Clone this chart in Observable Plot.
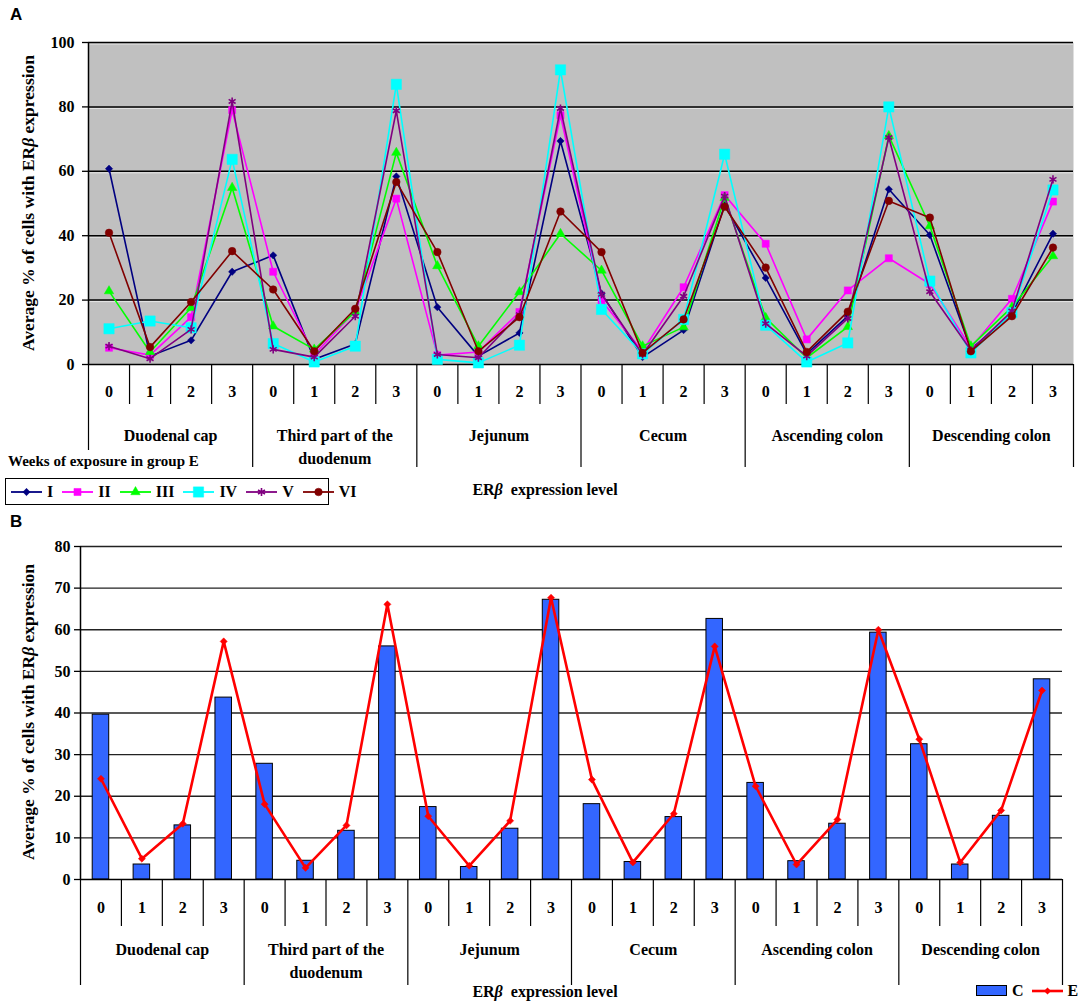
<!DOCTYPE html>
<html><head><meta charset="utf-8">
<script src="https://cdn.jsdelivr.net/npm/d3@7"></script>
<script src="https://cdn.jsdelivr.net/npm/@observablehq/plot@0.6"></script>
<style>
body{margin:0;background:#fff;}
#wrap{position:relative;width:1084px;height:1006px;overflow:hidden;font-family:"Liberation Serif","Times New Roman",serif;color:#000;}
#wrap > svg{position:absolute;left:0;overflow:visible;}
.abs{position:absolute;white-space:nowrap;font-weight:bold;}
.ytitle{font-size:17.5px;transform:translate(-50%,-50%) rotate(-90deg);}
.xtitle{font-size:16px;transform:translate(-50%,-50%);}
.panel{font-family:"Liberation Sans",Arial,sans-serif;font-size:17px;}
#legA{left:5px;top:478px;width:322px;height:25px;border:1.3px solid #000;background:#fff;display:flex;align-items:center;}
.li{display:flex;align-items:center;font-size:16px;font-weight:bold;}
.abs svg{position:static;display:block;}
#legB{display:flex;align-items:center;font-size:16px;font-weight:bold;}
</style></head><body><div id="wrap"></div>
<script>
// ---------- data ----------
const groups = ["Duodenal cap", "Third part of the\nduodenum", "Jejunum", "Cecum", "Ascending colon", "Descending colon"];
const levels = ["0", "1", "2", "3"];
const seriesNames = ["I", "II", "III", "IV", "V", "VI"];
const seriesColors = ["#000080", "#FF00FF", "#00FF00", "#00FFFF", "#800080", "#800000"];
const seriesSymbols = ["diamond2", "square", "triangle", "square", "asterisk", "circle"];

const weekI   = [60.8, 2.6, 7.5, 28.8,  33.9, 1.6, 6.4, 58.4,  17.8, 2.6, 9.8, 69.4,  22.0, 2.3, 10.7, 49.5,  26.9, 3.3, 15.0, 54.4,  40.2, 4.7, 15.8, 40.6];
const weekII  = [5.2, 2.9, 14.7, 79.0,  28.8, 3.1, 16.6, 51.5,  2.9, 3.9, 16.3, 77.4,  19.9, 4.1, 24.0, 52.6,  37.5, 7.8, 23.0, 33.0,  25.0, 5.2, 20.4, 50.6];
const weekIII = [22.8, 3.9, 17.6, 54.9,  11.9, 4.7, 16.4, 65.8,  30.6, 5.7, 22.5, 40.6,  29.2, 5.7, 11.6, 51.8,  14.5, 2.1, 11.7, 71.0,  43.0, 5.7, 17.8, 33.7];
const weekIV  = [11.1, 13.5, 11.4, 63.7,  6.5, 0.8, 5.7, 87.0,  1.6, 0.5, 6.0, 91.5,  17.1, 3.3, 14.0, 65.3,  12.2, 0.8, 6.7, 80.0,  25.9, 3.6, 16.1, 54.2];
const weekV   = [5.7, 1.8, 10.9, 81.7,  4.7, 2.3, 15.0, 78.8,  3.1, 2.1, 15.5, 79.5,  21.8, 3.1, 21.2, 52.3,  12.7, 2.6, 14.3, 70.5,  22.6, 4.4, 16.6, 57.5];
const weekVI  = [40.9, 5.4, 19.4, 35.2,  23.3, 4.1, 17.3, 56.7,  34.9, 4.1, 14.7, 47.5,  34.9, 3.6, 14.0, 49.0,  30.1, 3.9, 16.4, 50.8,  45.6, 4.1, 15.0, 36.3];

const groupC = [39.6, 3.6, 13.0, 43.7,  27.8, 4.5, 11.7, 56.0,  17.4, 3.0, 12.2, 67.2,  18.1, 4.2, 15.0, 62.6,  23.2, 4.4, 13.4, 59.3,  32.5, 3.6, 15.3, 48.1];
const groupE = [24.2, 5.0, 13.4, 57.2,  18.1, 2.8, 13.0, 66.1,  15.2, 3.3, 14.1, 67.7,  24.0, 4.1, 15.8, 56.0,  22.4, 3.6, 14.4, 60.0,  33.7, 4.1, 16.6, 45.4];

const yTicksA = [0, 20, 40, 60, 80, 100];
const yTicksB = [0, 10, 20, 30, 40, 50, 60, 70, 80];

// ---------- derived tables ----------
const seriesValues = [weekI, weekII, weekIII, weekIV, weekV, weekVI];
const cells = groups.flatMap((g, gi) => levels.map((l, li) => ({i: gi * 4 + li, label: l})));
const groupRows = groups.map((g, gi) => ({g, gi}));
const bounds = d3.range(0, groups.length * levels.length + 1).map(k => ({k, major: k % levels.length === 0}));
const rowsB = groupC.map((c, i) => ({i, c, e: groupE[i]}));
const nCat = groups.length * levels.length;

const serif = "'Liberation Serif','Times New Roman',serif";
const baseStyle = {fontFamily: serif, fontSize: "16px", fontWeight: "bold", background: "transparent", color: "#000", overflow: "visible"};

function hierAxis(minorLen, majorLen, firstLen, labelDy, groupDy) {
  return [
    Plot.ruleX(bounds.filter(b => !b.major), {x: "k", y1: 0, y2: 0, insetTop: 0, insetBottom: -minorLen, stroke: "#000", strokeWidth: 1.2}),
    Plot.ruleX(bounds.filter(b => b.major && b.k > 0), {x: "k", y1: 0, y2: 0, insetTop: 0, insetBottom: -majorLen, stroke: "#000", strokeWidth: 1.2}),
    Plot.ruleX(bounds.filter(b => b.k === 0), {x: "k", y1: 0, y2: 0, insetTop: 0, insetBottom: -firstLen, stroke: "#000", strokeWidth: 1.2}),
    Plot.text(cells, {x: d => d.i + 0.5, y: 0, text: "label", dy: labelDy, fontSize: 16, fontWeight: "bold"}),
    Plot.text(groupRows, {x: d => d.gi * levels.length + levels.length / 2, y: 0, text: "g", dy: groupDy, lineAnchor: "top", lineHeight: 1.45, fontSize: 16, fontWeight: "bold"})
  ];
}

// ---------- panel A ----------
const markR = [3.3, 4, 3.5, 5.8, 3.8, 3.8];
const marksA = [
  Plot.frame({fill: "#C0C0C0", stroke: "none"}),
  Plot.ruleY(yTicksA.filter(v => v > 0), {y: d => d, dy: 1.5, stroke: "#e6e6e6", strokeWidth: 1}),
  Plot.ruleY(yTicksA.filter(v => v > 0), {stroke: "#000", strokeWidth: 1.5}),
  Plot.axisY({ticks: yTicksA, tickSize: 6, tickPadding: 8, label: null, fontSize: 16, fontWeight: "bold", strokeWidth: 1.3}),
  Plot.ruleX([0], {stroke: "#000", strokeWidth: 1.5}),
  Plot.ruleY([0], {stroke: "#000", strokeWidth: 1.5}),
  ...hierAxis(40, 103, 86, 27, 60)
];
seriesNames.forEach((s, k) => {
  const rows = seriesValues[k].map((v, i) => ({s, i, v}));
  marksA.push(Plot.line(rows, {x: d => d.i + 0.5, y: "v", stroke: seriesColors[k], strokeWidth: 1.6}));
  const strokeOnly = seriesSymbols[k] === "asterisk";
  marksA.push(Plot.dot(rows, {x: d => d.i + 0.5, y: "v", symbol: seriesSymbols[k], r: markR[k],
    fill: strokeOnly ? "none" : seriesColors[k], stroke: seriesColors[k], strokeWidth: strokeOnly ? 1.6 : 0.5}));
});

const plotA = Plot.plot({
  width: 1084, height: 510,
  marginTop: 42, marginLeft: 88, marginRight: 11, marginBottom: 146,
  style: baseStyle,
  x: {domain: [0, nCat], axis: null},
  y: {domain: [0, 100]},
  marks: marksA
});

// ---------- panel B ----------
const plotB = Plot.plot({
  width: 1084, height: 496,
  marginTop: 36, marginLeft: 80, marginRight: 22, marginBottom: 127,
  style: baseStyle,
  x: {domain: [0, nCat], axis: null},
  y: {domain: [0, 80]},
  marks: [
    Plot.ruleY(yTicksB.filter(v => v > 0), {stroke: "#222", strokeWidth: 1.4}),
    Plot.rectY(rowsB, {x1: d => d.i, x2: d => d.i + 1, y1: 0, y2: "c", insetLeft: 12.2, insetRight: 12.2, fill: "#3366FF", stroke: "#000", strokeWidth: 1}),
    Plot.axisY({ticks: yTicksB, tickSize: 6, tickPadding: 4, label: null, fontSize: 16, fontWeight: "bold", strokeWidth: 1.3}),
    Plot.ruleX([0], {y1: 0, y2: 80, stroke: "#000", strokeWidth: 1.5}),
    Plot.ruleY([0], {stroke: "#000", strokeWidth: 1.5}),
    ...hierAxis(47, 106, 106, 28, 59),
    Plot.line(rowsB, {x: d => d.i + 0.5, y: "e", stroke: "#FF0000", strokeWidth: 2.6}),
    Plot.dot(rowsB, {x: d => d.i + 0.5, y: "e", symbol: "diamond2", r: 3.2, fill: "#FF0000", stroke: "#FF0000", strokeWidth: 0.5})
  ]
});

// ---------- assemble ----------
const wrap = document.getElementById("wrap");
plotA.style.top = "0px";
plotB.style.top = "510px";
wrap.appendChild(plotA);
wrap.appendChild(plotB);

function addDiv(cls, html, left, top) {
  const d = document.createElement("div");
  d.className = "abs " + cls;
  d.innerHTML = html;
  d.style.left = left + "px";
  d.style.top = top + "px";
  wrap.appendChild(d);
  return d;
}
addDiv("panel", "A", 10, 5);
addDiv("panel", "B", 10, 512);
addDiv("ytitle", "Average % of cells with ER<i>β</i> expression", 28, 203);
addDiv("ytitle", "Average % of cells with ER<i>β</i> expression", 28, 712);
addDiv("xtitle", "ER<i>β</i>&nbsp; expression level", 545, 490);
addDiv("xtitle", "ER<i>β</i>&nbsp; expression level", 545, 992);
const wk = addDiv("", "Weeks of exposure in group E", 8, 453);
wk.style.fontSize = "15px";

// legend A
const legA = addDiv("", "", 5, 478);
legA.id = "legA";
seriesNames.forEach((s, k) => {
  const item = document.createElement("div");
  item.className = "li";
  item.style.marginLeft = k === 0 ? "5px" : "9px";
  const sw = d3.create("svg").attr("width", 32).attr("height", 14);
  sw.append("line").attr("x1", 0).attr("x2", 31).attr("y1", 7).attr("y2", 7).attr("stroke", seriesColors[k]).attr("stroke-width", 1.8);
  const sym = {diamond2: d3.symbolDiamond2, square: d3.symbolSquare, triangle: d3.symbolTriangle, asterisk: d3.symbolAsterisk, circle: d3.symbolCircle}[seriesSymbols[k]];
  const r = markR[k];
  const strokeOnly = seriesSymbols[k] === "asterisk";
  sw.append("path").attr("transform", "translate(15.5,7)").attr("d", d3.symbol(sym, r * r * Math.PI)())
    .attr("fill", strokeOnly ? "none" : seriesColors[k]).attr("stroke", seriesColors[k]).attr("stroke-width", strokeOnly ? 1.6 : 0.5);
  item.appendChild(sw.node());
  const t = document.createElement("span");
  t.textContent = s;
  t.style.marginLeft = "4px";
  item.appendChild(t);
  legA.appendChild(item);
});

// legend B
const legB = addDiv("", "", 976, 982);
legB.id = "legB";
const swC = d3.create("svg").attr("width", 31).attr("height", 12);
swC.append("rect").attr("x", 0.5).attr("y", 0.5).attr("width", 30).attr("height", 10).attr("fill", "#3366FF").attr("stroke", "#000");
legB.appendChild(swC.node());
const tC = document.createElement("span"); tC.textContent = "C"; tC.style.margin = "0 8px 0 5px"; legB.appendChild(tC);
const swE = d3.create("svg").attr("width", 31).attr("height", 12);
swE.append("line").attr("x1", 0).attr("x2", 31).attr("y1", 6).attr("y2", 6).attr("stroke", "#FF0000").attr("stroke-width", 2.6);
swE.append("path").attr("transform", "translate(15.5,6)").attr("d", d3.symbol(d3.symbolDiamond2, 3.2 * 3.2 * Math.PI)()).attr("fill", "#FF0000");
legB.appendChild(swE.node());
const tE = document.createElement("span"); tE.textContent = "E"; tE.style.marginLeft = "5px"; legB.appendChild(tE);
</script>
</body></html>
